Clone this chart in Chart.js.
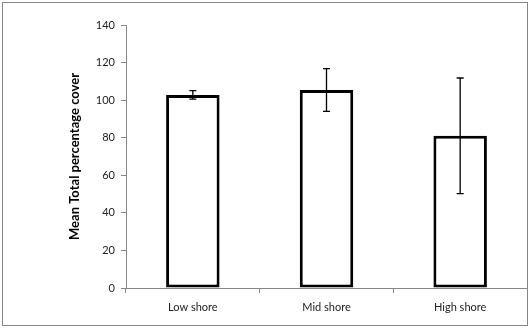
<!DOCTYPE html>
<html>
<head>
<meta charset="utf-8">
<script src="https://cdn.jsdelivr.net/npm/chart.js@4"></script>
<style>
  html, body { margin: 0; padding: 0; background: #fff; }
  #wrap { position: relative; width: 530px; height: 328px; }
  #frame { position: absolute; left: 2px; top: 2px; width: 524px; height: 322px; border: 1px solid #868686; pointer-events: none; }
</style>
</head>
<body>
<div id="wrap">
  <canvas id="coverChart" width="530" height="328"></canvas>
  <div id="frame"></div>
</div>
<script>
// Mean total percentage cover by shore level, with error bars
const shoreLevels = ['Low shore', 'Mid shore', 'High shore'];
const meanCover = [102.8, 105.4, 81.0];
const coverError = [2.3, 11.4, 30.8];
const yTicks = [0, 20, 40, 60, 80, 100, 120, 140];

// draw the error bars on top of the bars
const errorBars = {
    id: 'errorBars',
    afterDatasetsDraw(chart) {
        const ctx = chart.ctx;
        const y = chart.scales.y;
        const meta = chart.getDatasetMeta(0);
        ctx.save();
        ctx.strokeStyle = '#000';
        ctx.lineWidth = 1.3;
        meta.data.forEach((bar, i) => {
            const top = y.getPixelForValue(meanCover[i] + coverError[i]);
            const bottom = y.getPixelForValue(meanCover[i] - coverError[i]);
            const cap = 3.5;
            ctx.beginPath();
            ctx.moveTo(bar.x, top);
            ctx.lineTo(bar.x, bottom);
            ctx.moveTo(bar.x - cap, top);
            ctx.lineTo(bar.x + cap, top);
            ctx.moveTo(bar.x - cap, bottom);
            ctx.lineTo(bar.x + cap, bottom);
            ctx.stroke();
        });
        ctx.restore();
    }
};

const ctx = document.getElementById('coverChart').getContext('2d');
new Chart(ctx, {
    type: 'bar',
    data: {
        labels: shoreLevels,
        datasets: [{
            data: meanCover,
            backgroundColor: '#fff',
            borderColor: '#000',
            borderWidth: 3,
            borderSkipped: false,
            barPercentage: 0.4,
            categoryPercentage: 1
        }]
    },
    options: {
        responsive: false,
        animation: false,
        layout: { padding: { top: 25, right: 3, left: 67, bottom: 0 } },
        plugins: {
            legend: { display: false },
            tooltip: { enabled: false }
        },
        scales: {
            x: {
                grid: { display: true, drawOnChartArea: false, offset: true, color: '#868686', tickLength: 5 },
                border: { color: '#868686', width: 1 },
                ticks: { color: '#222', font: { family: 'Lato', size: 11 }, padding: 8 },
                afterFit(scale) { scale.height = 40; }
            },
            y: {
                min: 0,
                max: 140,
                afterBuildTicks(scale) { scale.ticks = yTicks.map(v => ({ value: v })); },
                grid: { display: true, drawOnChartArea: false, color: '#868686', tickLength: 5 },
                border: { color: '#868686', width: 1 },
                ticks: { color: '#222', font: { family: 'Lato', size: 11 }, padding: 6 },
                title: {
                    display: true,
                    text: 'Mean Total percentage cover',
                    color: '#000',
                    font: { family: 'Lato', size: 13, weight: 'bold' },
                    padding: { top: 0, bottom: 4 }
                },
                afterFit(scale) { scale.width = 59; }
            }
        }
    },
    plugins: [errorBars]
});
</script>
</body>
</html>
